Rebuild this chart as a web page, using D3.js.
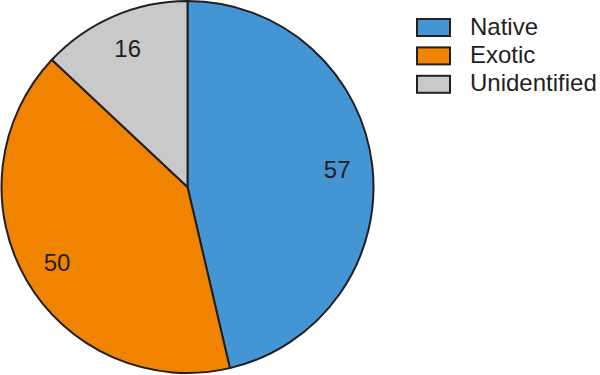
<!DOCTYPE html>
<html>
<head>
<meta charset="utf-8">
<script src="https://cdn.jsdelivr.net/npm/d3@7"></script>
<style>
  body { margin: 0; background: #fff; }
  text { font-family: "Liberation Sans", Arial, sans-serif; fill: #231f20; }
</style>
</head>
<body>
<script>
// data
var categories = ["Native", "Exotic", "Unidentified"];
var counts = [57, 50, 16];
var colours = ["#4495d4", "#f08300", "#c9c9c9"];

var width = 600, height = 375;
var cx = 187.5, cy = 187, radius = 186;

var svg = d3.select("body")
  .append("svg")
  .attr("width", width)
  .attr("height", height);

var colour = d3.scaleOrdinal().domain(categories).range(colours);

var pie = d3.pie().sort(null).value(function(d, i) { return counts[i]; });
var arcs = pie(categories);

var arc = d3.arc().innerRadius(0).outerRadius(radius);
var labelArc = d3.arc().innerRadius(radius * 0.81).outerRadius(radius * 0.81);

var g = svg.append("g")
  .attr("transform", "translate(" + cx + "," + cy + ")");

g.selectAll("path")
  .data(arcs)
  .enter()
  .append("path")
  .attr("d", arc)
  .attr("fill", function(d) { return colour(d.data); })
  .attr("stroke", "#231f20")
  .attr("stroke-width", 2)
  .attr("stroke-linejoin", "round");

// value labels
g.selectAll("text.val")
  .data(arcs)
  .enter()
  .append("text")
  .attr("class", "val")
  .attr("transform", function(d) { return "translate(" + labelArc.centroid(d) + ")"; })
  .attr("text-anchor", "middle")
  .attr("dy", "0.36em")
  .style("font-size", "24px")
  .text(function(d) { return d.value; });

// legend
var legend = svg.append("g")
  .attr("transform", "translate(417,19)");

var item = legend.selectAll("g")
  .data(categories)
  .enter()
  .append("g")
  .attr("transform", function(d, i) { return "translate(0," + (i * 28.4) + ")"; });

item.append("rect")
  .attr("width", 33)
  .attr("height", 17)
  .attr("fill", function(d) { return colour(d); })
  .attr("stroke", "#231f20")
  .attr("stroke-width", 2);

item.append("text")
  .attr("x", 53)
  .attr("y", 15.5)
  .style("font-size", "24px")
  .text(function(d) { return d; });
</script>
</body>
</html>
